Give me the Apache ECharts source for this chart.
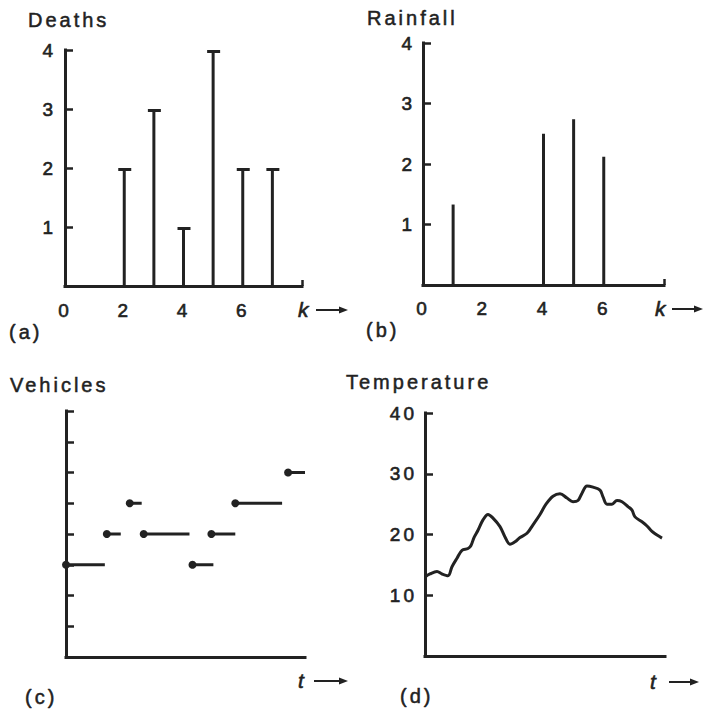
<!DOCTYPE html>
<html>
<head>
<meta charset="utf-8">
<script src="https://cdn.jsdelivr.net/npm/echarts@6/dist/echarts.min.js"></script>
<style>
  html, body { margin: 0; padding: 0; background: #ffffff; }
  #main { width: 704px; height: 712px; }
  #main text { letter-spacing: 3px; }
</style>
</head>
<body>
<div id="main"></div>
<script>
// ---- data ----
const deathK = [2, 3, 4, 5, 6, 7];
const deathCount = [2, 3, 1, 4, 2, 2];
const rainK = [1, 4, 5, 6];
const rainAmount = [1.33, 2.5, 2.74, 2.12];
const kTickLabels = [0, 2, 4, 6];
const vehStart = [0, 4.1, 6.4, 7.8, 12.7, 14.6, 17.0, 22.3];
const vehEnd   = [3.9, 5.5, 7.6, 12.4, 14.8, 17.0, 21.7, 24.0];
const vehCount = [3, 4, 5, 4, 3, 4, 5, 6];
const tempT = [0, 0.5, 1.2, 1.7, 2.3, 2.7, 3.2, 3.7, 4.3, 4.6, 4.9, 5.3, 5.8, 6.3, 6.8, 7.5, 8.0, 8.5, 9.0, 9.5, 10.2, 10.8, 11.5, 12.1, 12.8, 13.5, 14.2, 14.8, 15.3, 15.7, 16.2, 16.8, 17.5, 17.8, 18.2, 18.7, 19.2, 19.7, 20.3, 20.7, 21.0, 21.7, 22.2, 22.7, 23.2, 23.7];
const tempC = [13.0, 13.5, 13.9, 13.5, 13.2, 14.7, 16.1, 17.4, 17.7, 18.2, 19.5, 20.7, 22.4, 23.3, 22.7, 21.3, 19.6, 18.4, 18.8, 19.5, 20.2, 21.6, 23.3, 25.0, 26.3, 26.7, 26.0, 25.4, 25.6, 26.8, 28.0, 27.8, 27.3, 26.2, 25.0, 25.0, 25.6, 25.4, 24.6, 24.0, 22.9, 22.1, 21.4, 20.5, 19.9, 19.4];

// ---- style ----
const INK = '#222222';
const FONT = "'Liberation Sans', Arial, sans-serif";
const LBL = { color: INK, fontSize: 19, fontFamily: FONT, textBorderColor: INK, textBorderWidth: 0.6 };

const chart = echarts.init(document.getElementById('main'), null, { renderer: 'svg' });

function stemRender(withCap) {
  return function (params, api) {
    const x = api.value(0), v = api.value(1);
    const p0 = api.coord([x, 0]);
    const p1 = api.coord([x, v]);
    const children = [{
      type: 'line',
      shape: { x1: p0[0], y1: p0[1], x2: p1[0], y2: p1[1] },
      style: { stroke: INK, lineWidth: 3 }
    }];
    if (withCap) {
      children.push({
        type: 'line',
        shape: { x1: p1[0] - 6, y1: p1[1] + 1.5, x2: p1[0] + 7, y2: p1[1] + 1.5 },
        style: { stroke: INK, lineWidth: 3 }
      });
    }
    return { type: 'group', children };
  };
}

function stepRender(params, api) {
  const s = api.value(0), e = api.value(1), v = api.value(2);
  const a = api.coord([s, v]);
  const b = api.coord([e, v]);
  return {
    type: 'group',
    children: [
      { type: 'line', shape: { x1: a[0], y1: a[1], x2: b[0], y2: b[1] }, style: { stroke: INK, lineWidth: 3 } },
      { type: 'circle', shape: { cx: a[0], cy: a[1], r: 4 }, style: { fill: INK } }
    ]
  };
}

function axisLine() {
  return { show: true, lineStyle: { color: INK, width: 3, cap: 'square' } };
}

function arrowLabel(letter, x, y, arrowX1, arrowX2) {
  return {
    type: 'group',
    children: [
      { type: 'text', x: x, y: y, style: { text: letter, font: 'italic 21px ' + FONT, fill: INK, stroke: INK, lineWidth: 0.6, textVerticalAlign: 'middle' } },
      { type: 'line', shape: { x1: arrowX1, y1: y + 1, x2: arrowX2 - 6, y2: y + 1 }, style: { stroke: INK, lineWidth: 2 } },
      { type: 'polygon', shape: { points: [[arrowX2 - 9, y - 2.5], [arrowX2, y + 1], [arrowX2 - 9, y + 4.5]] }, style: { fill: INK } }
    ]
  };
}

const titleStyle = { color: INK, fontSize: 20, fontWeight: 'normal', fontFamily: FONT, textBorderColor: INK, textBorderWidth: 0.5 };

const option = {
  animation: false,
  backgroundColor: '#ffffff',
  title: [
    { text: 'Deaths', left: 28, top: 10, padding: 0, textStyle: titleStyle },
    { text: 'Rainfall', left: 367, top: 8, padding: 0, textStyle: titleStyle },
    { text: 'Vehicles', left: 10, top: 375, padding: 0, textStyle: titleStyle },
    { text: 'Temperature', left: 346, top: 372, padding: 0, textStyle: titleStyle },
    { text: '(a)', left: 9, top: 322, padding: 0, textStyle: titleStyle },
    { text: '(b)', left: 366, top: 320, padding: 0, textStyle: titleStyle },
    { text: '(c)', left: 25, top: 687, padding: 0, textStyle: titleStyle },
    { text: '(d)', left: 400, top: 686, padding: 0, textStyle: titleStyle }
  ],
  grid: [
    { left: 65, top: 50, width: 237, height: 236 },
    { left: 423, top: 43, width: 241, height: 242 },
    { left: 66, top: 411, width: 239, height: 246 },
    { left: 425, top: 413, width: 240, height: 243 }
  ],
  xAxis: [
    { gridIndex: 0, type: 'value', min: 0, max: 8, interval: 2, splitLine: { show: false }, axisLine: axisLine(),
      axisTick: { show: true, inside: true, length: 6, customValues: [8], lineStyle: { color: INK, width: 2.5 } },
      axisLabel: Object.assign({ margin: 15, customValues: kTickLabels }, LBL) },
    { gridIndex: 1, type: 'value', min: 0, max: 8, interval: 2, splitLine: { show: false }, axisLine: axisLine(),
      axisTick: { show: true, inside: true, length: 6, customValues: [8], lineStyle: { color: INK, width: 2.5 } },
      axisLabel: Object.assign({ margin: 14, customValues: kTickLabels }, LBL) },
    { gridIndex: 2, type: 'value', min: 0, max: 24, splitLine: { show: false }, axisLine: axisLine(),
      axisTick: { show: false }, axisLabel: { show: false } },
    { gridIndex: 3, type: 'value', min: 0, max: 24, splitLine: { show: false }, axisLine: axisLine(),
      axisTick: { show: false }, axisLabel: { show: false } }
  ],
  yAxis: [
    { gridIndex: 0, type: 'value', min: 0, max: 4, interval: 1, splitLine: { show: false }, axisLine: axisLine(),
      axisTick: { show: true, inside: true, length: 8, lineStyle: { color: INK, width: 2.5 } },
      axisLabel: Object.assign({ margin: 9, showMinLabel: false }, LBL) },
    { gridIndex: 1, type: 'value', min: 0, max: 4, interval: 1, splitLine: { show: false }, axisLine: axisLine(),
      axisTick: { show: true, inside: true, length: 8, lineStyle: { color: INK, width: 2.5 } },
      axisLabel: Object.assign({ margin: 8, showMinLabel: false }, LBL) },
    { gridIndex: 2, type: 'value', min: 0, max: 8, interval: 1, splitLine: { show: false }, axisLine: axisLine(),
      axisTick: { show: true, inside: true, length: 8, lineStyle: { color: INK, width: 2.5 } },
      axisLabel: { show: false } },
    { gridIndex: 3, type: 'value', min: 0, max: 40, interval: 10, splitLine: { show: false }, axisLine: axisLine(),
      axisTick: { show: true, inside: true, length: 8, lineStyle: { color: INK, width: 2.5 } },
      axisLabel: Object.assign({ margin: 8, showMinLabel: false }, LBL) }
  ],
  series: [
    { type: 'custom', xAxisIndex: 0, yAxisIndex: 0, renderItem: stemRender(true),
      data: deathK.map((k, i) => [k, deathCount[i]]), encode: { x: 0, y: 1 } },
    { type: 'custom', xAxisIndex: 1, yAxisIndex: 1, renderItem: stemRender(false),
      data: rainK.map((k, i) => [k, rainAmount[i]]), encode: { x: 0, y: 1 } },
    { type: 'custom', xAxisIndex: 2, yAxisIndex: 2, renderItem: stepRender,
      data: vehStart.map((s, i) => [s, vehEnd[i], vehCount[i]]), encode: { x: [0, 1], y: 2 } },
    { type: 'line', xAxisIndex: 3, yAxisIndex: 3, showSymbol: false, smooth: 0.35,
      lineStyle: { color: INK, width: 3 }, itemStyle: { color: INK },
      data: tempT.map((t, i) => [t, tempC[i]]) }
  ],
  graphic: [
    arrowLabel('k', 298, 309, 316, 348),
    arrowLabel('k', 655, 308, 672, 703),
    arrowLabel('t', 298, 680, 314, 348),
    arrowLabel('t', 650, 681, 669, 699)
  ]
};

chart.setOption(option);
</script>
</body>
</html>
